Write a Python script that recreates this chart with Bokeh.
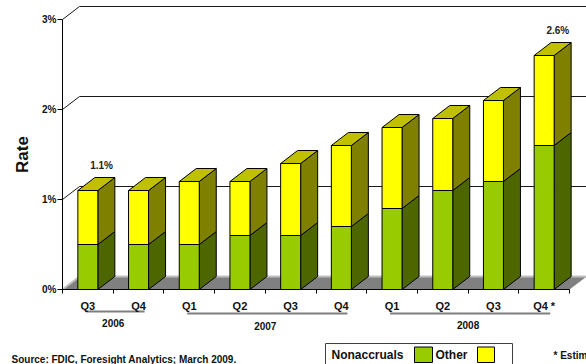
from math import pi

from bokeh.plotting import figure
from bokeh.models import (Range1d, LinearAxis, FixedTicker, PrintfTickFormatter,
                          ColumnDataSource)
from bokeh.core.properties import value
from bokeh.embed import file_html
from bokeh.resources import INLINE

# ---- data -------------------------------------------------------------
quarters = ["Q3", "Q4", "Q1", "Q2", "Q3", "Q4", "Q1", "Q2", "Q3", "Q4 *"]
years = ["2006", "2007", "2008"]
year_first = [0, 2, 6]          # first quarter index of each year
year_last = [1, 5, 9]           # last quarter index of each year
nonaccruals = [0.5, 0.5, 0.5, 0.6, 0.6, 0.7, 0.9, 1.1, 1.2, 1.6]
other = [0.6, 0.6, 0.7, 0.6, 0.8, 0.9, 0.9, 0.8, 0.9, 1.0]
y_ticks = [0, 1, 2, 3]
labelled_bars = [0, 9]          # bars whose total is printed above them

# ---- page geometry ----------------------------------------------------
W, H = 586, 364
PX_X, PX_Y = 50.7, 90.0          # pixels per category / per percentage point
X0_PX, Y0_PX = 62, 289           # pixel position of the chart origin
DX, DY = 17 / PX_X, 13 / PX_Y    # 3-D depth offset
BAR_W = 20 / PX_X
FONT = value("Liberation Sans")

n = len(quarters)
centers = [i + 0.5 for i in range(n)]
totals = [round(a + b, 2) for a, b in zip(nonaccruals, other)]

p = figure(width=W, height=H,
           x_range=Range1d(-X0_PX / PX_X, (W - X0_PX) / PX_X),
           y_range=Range1d(-(H - Y0_PX) / PX_Y, Y0_PX / PX_Y),
           x_axis_type=None, y_axis_type=None, title=None,
           toolbar_location=None, output_backend="svg", min_border=0)
p.outline_line_color = None
p.background_fill_color = "white"
p.border_fill_color = "white"

x_end = (W - X0_PX) / PX_X + 1

# ---- back wall gridlines ----------------------------------------------
for v in y_ticks[1:]:
    p.line([0, DX, x_end], [v, v + DY, v + DY], line_color="#1a1a1a", line_width=1)

# ---- floor ------------------------------------------------------------
p.patch([0, n, n + DX, DX], [0, 0, DY, DY], fill_color="#808080", line_color=None)
p.line([0, DX, n + DX], [0, DY, DY], line_color="#c0c0c0", line_width=2)

# ---- 3-D stacked bars -------------------------------------------------
series = [
    # name, front, top, side
    ("Nonaccruals", "#99cc00", "#7a9e00", "#4d6600"),
    ("Other", "#ffff00", "#c0c000", "#808000"),
]
bottoms = [0.0] * n
stack = [nonaccruals, other]
for k, (vals, (name, c_front, c_top, c_side)) in enumerate(zip(stack, series)):
    left = [c - BAR_W / 2 for c in centers]
    right = [c + BAR_W / 2 for c in centers]
    bot = list(bottoms)
    top = [b + v for b, v in zip(bot, vals)]
    side_xs = [[r, r + DX, r + DX, r] for r in right]
    side_ys = [[b, b + DY, t + DY, t] for b, t in zip(bot, top)]
    p.patches(side_xs, side_ys, fill_color=c_side, line_color="black", line_width=1)
    p.quad(left=left, right=right, bottom=bot, top=top,
           fill_color=c_front, line_color="black", line_width=1)
    if k == len(stack) - 1:
        top_xs = [[l, r, r + DX, l + DX] for l, r in zip(left, right)]
        top_ys = [[t, t, t + DY, t + DY] for t in top]
        p.patches(top_xs, top_ys, fill_color=c_top, line_color="black", line_width=1)
    bottoms = top

# totals printed above selected bars
lab = ColumnDataSource(dict(
    x=[centers[i] + 0.27 for i in labelled_bars],
    y=[totals[i] + DY + 0.133 for i in labelled_bars],
    t=[f"{totals[i]:.1f}%" for i in labelled_bars]))
p.text(x="x", y="y", text="t", source=lab, text_font=FONT, text_font_style="bold",
       text_font_size="10px", text_color="#222222", text_align="center",
       text_baseline="middle")

# ---- axes -------------------------------------------------------------
yaxis = LinearAxis(fixed_location=0, bounds=(0, y_ticks[-1]),
                   ticker=FixedTicker(ticks=y_ticks),
                   formatter=PrintfTickFormatter(format="%d%%"),
                   axis_line_color="black", major_tick_line_color="black",
                   major_tick_out=5, major_tick_in=0, minor_tick_line_color=None,
                   major_label_standoff=1,
                   major_label_text_font="Liberation Sans",
                   major_label_text_font_style="bold",
                   major_label_text_font_size="10px",
                   major_label_text_color="#111111")
p.add_layout(yaxis, "left")

xaxis = LinearAxis(fixed_location=0, bounds=(0, n),
                   ticker=FixedTicker(ticks=centers, minor_ticks=list(range(n + 1))),
                   major_label_overrides={c: q for c, q in zip(centers, quarters)},
                   axis_line_color="black", major_tick_line_color=None,
                   major_tick_out=0, major_tick_in=0,
                   minor_tick_line_color="black", minor_tick_out=4, minor_tick_in=0,
                   major_label_standoff=6,
                   major_label_text_font="Liberation Sans",
                   major_label_text_font_style="bold",
                   major_label_text_font_size="11px",
                   major_label_text_color="#111111")
p.add_layout(xaxis, "below")

p.text(x=[(22 - X0_PX) / PX_X], y=[1.5], text=["Rate"], angle=pi / 2,
       text_font=FONT, text_font_style="bold", text_font_size="17px",
       text_color="#111111", text_align="center", text_baseline="middle")

# ---- year groups ------------------------------------------------------
year_line_y = [-0.244, -0.267, -0.267]
year_text_y = [-0.37, -0.405, -0.39]
p.segment(x0=[centers[f] - 0.04 for f in year_first],
          y0=year_line_y,
          x1=[centers[l] + 0.12 for l in year_last],
          y1=year_line_y, line_color="#7f7f7f", line_width=2)
p.text(x=[(f + l + 1) / 2 for f, l in zip(year_first, year_last)], y=year_text_y,
       text=years, text_font=FONT, text_font_style="bold", text_font_size="10px",
       text_color="#111111", text_align="center", text_baseline="middle")

# ---- legend (label before swatch) -------------------------------------
def px_x(v):
    return (v - X0_PX) / PX_X


def px_y(v):
    return (Y0_PX - v) / PX_Y


p.quad(left=[px_x(325)], right=[px_x(512)], top=[px_y(343)], bottom=[px_y(370)],
       fill_color="white", line_color="#404040", line_width=1)
p.text(x=[px_x(331), px_x(435)], y=[px_y(354.5)] * 2,
       text=[s[0] for s in series], text_font=FONT, text_font_style="bold",
       text_font_size="12px", text_color="#111111", text_baseline="middle")
p.quad(left=[px_x(414), px_x(477)], right=[px_x(432), px_x(494)],
       top=[px_y(346.5)] * 2, bottom=[px_y(362)] * 2,
       fill_color=[s[1] for s in series], line_color="black", line_width=1)

p.text(x=[px_x(553)], y=[px_y(355)], text=["* Estimated"], text_font=FONT,
       text_font_style="bold", text_font_size="10px", text_color="#111111",
       text_baseline="middle")

p.text(x=[px_x(11)], y=[px_y(358.5)], text=["Source: FDIC, Foresight Analytics; March 2009."],
       text_font=FONT, text_font_style="bold", text_font_size="10px",
       text_color="#111111", text_baseline="alphabetic")

open("out.html", "w").write(file_html(p, INLINE))
